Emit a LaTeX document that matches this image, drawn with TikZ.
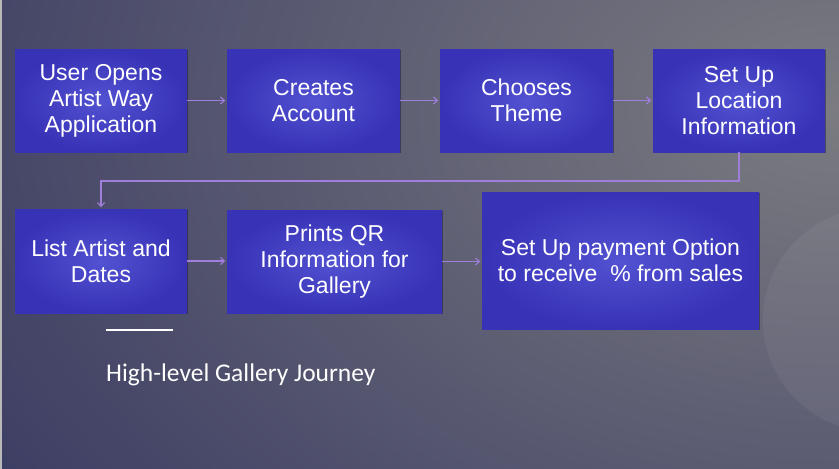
\documentclass[tikz,border=0pt]{standalone}
\usepackage{fontspec}
\setmainfont{Liberation Sans}
\newfontfamily\capfont{Carlito}
\usetikzlibrary{arrows.meta,shadows}
\definecolor{navy}{HTML}{3C3D63}
\definecolor{greyish}{HTML}{7B7B81}
\definecolor{boxin}{HTML}{5252D2}
\definecolor{boxout}{HTML}{3832B6}
\definecolor{arrowc}{HTML}{A07EDC}
\tikzset{
  stepbox/.style={rectangle, inner sep=0pt, shade, inner color=boxin, outer color=boxout,
    text=white, align=center, font=\fontsize{23}{26}\selectfont,
    drop shadow={shadow xshift=1pt, shadow yshift=-1.3pt, opacity=0.35, fill=black}},
  arr/.style={draw=arrowc, line width=1.1pt, -{Straight Barb[length=4pt,width=7pt]}, shorten >=1.5pt}
}
\begin{document}
\begin{tikzpicture}[x=1pt,y=-1pt]
\useasboundingbox (0,0) rectangle (839,469);
% background
\fill[navy] (0,0) rectangle (839,469);
\begin{scope}
\clip (0,0) rectangle (839,469);
\shade[inner color=greyish, outer color=navy] (830,110) ellipse [x radius=1000, y radius=700];
\fill[white, opacity=0.05] (875,320) circle (112);
\end{scope}
\fill[gray!55] (0,0) rectangle (1.5,469);
% boxes
\node[stepbox, minimum width=172, minimum height=103] (b1) at (101,100.5) {User Opens\\Artist Way\\Application};
\node[stepbox, minimum width=173, minimum height=103] (b2) at (313.5,100.5) {Creates\\Account};
\node[stepbox, minimum width=173, minimum height=103] (b3) at (526.5,100.5) {Chooses\\Theme};
\node[stepbox, minimum width=172, minimum height=103] (b4) at (739,100.5) {Set Up\\Location\\Information};
\node[stepbox, minimum width=172, minimum height=104] (b5) at (101,261) {List Artist and\\Dates};
\node[stepbox, minimum width=215, minimum height=103] (b6) at (334.5,261.5) {Prints QR\\Information for\\Gallery};
\node[stepbox, minimum width=277, minimum height=137] (b7) at (620.5,260.5) {Set Up payment Option\\to receive\ \ \% from sales};
% connectors
\coordinate (turn) at (101,181);
\draw[arr] (b1.east) -- (b2.west);
\draw[arr] (b2.east) -- (b3.west);
\draw[arr] (b3.east) -- (b4.west);
\draw[arr] (b4.south) |- (turn) -- (b5.north);
\draw[arr] (b5.east) -- (b5.east -| b6.west);
\draw[arr] (b6.east) -- (b6.east -| b7.west);
% caption
\draw[white, line width=2.5pt] (106,330) -- (173,330);
\node[anchor=base west, inner sep=0pt, text=white, font=\capfont\fontsize{25.5}{30}\selectfont] (cap) at (106,381.7) {High-level Gallery Journey};
\end{tikzpicture}
\end{document}
